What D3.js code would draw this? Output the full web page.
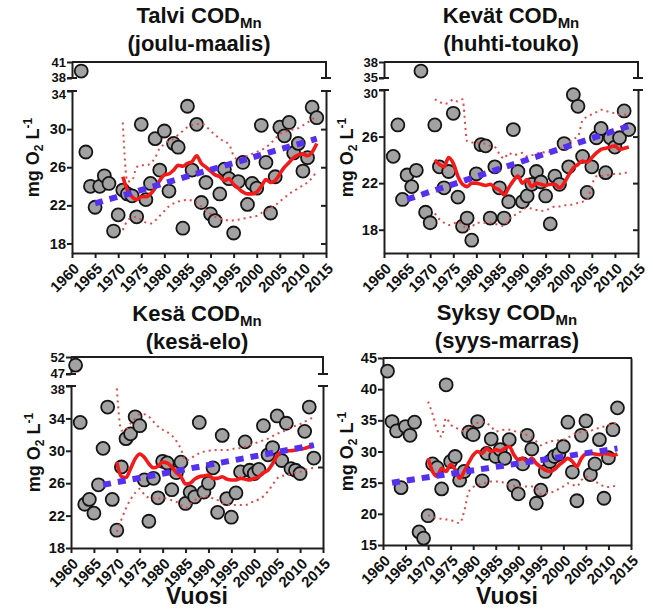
<!DOCTYPE html>
<html><head><meta charset="utf-8">
<script src="https://cdn.jsdelivr.net/npm/d3@7"></script>
<style>
body{margin:0;background:#fff;}
svg{display:block;}
text{font-family:"Liberation Sans",Arial,sans-serif;font-weight:bold;fill:#111;}
</style></head><body>
<svg id="chart" width="653" height="611"></svg>
<script>
// ---------- DATA ----------
const xTickValues = [1960,1965,1970,1975,1980,1985,1990,1995,2000,2005,2010,2015];

const years1962to2013 = [1962,1963,1964,1965,1966,1967,1968,1969,1970,1971,1972,1973,1974,1975,1976,1977,1978,1979,1980,1981,1982,1983,1984,1985,1986,1987,1988,1989,1990,1991,1992,1993,1994,1995,1996,1997,1998,1999,2000,2001,2002,2003,2004,2005,2006,2007,2008,2009,2010,2011,2012,2013];
const years1961to2013 = [1961,1962,1963,1964,1965,1966,1967,1968,1969,1970,1971,1972,1973,1974,1975,1976,1977,1978,1979,1980,1981,1982,1983,1984,1985,1986,1987,1988,1989,1990,1991,1992,1993,1994,1995,1996,1997,1998,1999,2000,2001,2002,2003,2004,2005,2006,2007,2008,2009,2010,2011,2012,2013];
const years1961to2012 = [1961,1962,1963,1964,1965,1966,1967,1968,1969,1970,1971,1972,1973,1974,1975,1976,1977,1978,1979,1980,1981,1982,1983,1984,1985,1986,1987,1988,1989,1990,1991,1992,1993,1994,1995,1996,1997,1998,1999,2000,2001,2002,2003,2004,2005,2006,2007,2008,2009,2010,2011,2012];
const years1971to2013 = [1971,1972,1973,1974,1975,1976,1977,1978,1979,1980,1981,1982,1983,1984,1985,1986,1987,1988,1989,1990,1991,1992,1993,1994,1995,1996,1997,1998,1999,2000,2001,2002,2003,2004,2005,2006,2007,2008,2009,2010,2011,2012,2013];
const years1970to2013 = [1970,1971,1972,1973,1974,1975,1976,1977,1978,1979,1980,1981,1982,1983,1984,1985,1986,1987,1988,1989,1990,1991,1992,1993,1994,1995,1996,1997,1998,1999,2000,2001,2002,2003,2004,2005,2006,2007,2008,2009,2010,2011,2012,2013];
const years1970to2012 = [1970,1971,1972,1973,1974,1975,1976,1977,1978,1979,1980,1981,1982,1983,1984,1985,1986,1987,1988,1989,1990,1991,1992,1993,1994,1995,1996,1997,1998,1999,2000,2001,2002,2003,2004,2005,2006,2007,2008,2009,2010,2011,2012];

// Talvi (joulu-maalis)
const talviValues = [39.3,27.6,24.0,21.8,24.0,25.1,24.3,19.3,21.0,23.6,23.2,23.0,20.8,30.5,22.6,24.3,29.0,25.7,29.8,23.5,28.5,28.1,19.6,32.4,25.7,30.5,22.3,24.4,21.1,20.4,23.2,25.8,24.8,19.1,24.5,26.5,22.1,24.3,23.8,30.4,26.5,21.2,25.0,30.2,29.3,30.7,27.5,28.5,25.6,27.0,32.3,31.2];
const talviSmooth = [25.0,23.6,22.9,22.6,22.9,22.9,23.2,23.8,24.6,25.2,25.3,25.7,26.2,26.1,26.4,26.6,27.2,26.4,26.0,25.6,25.2,25.0,24.6,24.8,24.2,23.8,23.4,23.2,23.2,23.4,24.0,24.7,24.4,24.6,25.3,26.0,26.5,27.0,27.3,27.4,27.2,27.6,28.5];
const talviUpper = [30.7,24.5,24.6,26.0,26.2,26.2,26.4,27.0,28.0,28.4,28.8,29.0,29.4,29.8,30.2,30.4,30.5,30.6,30.3,29.8,29.4,29.0,28.7,28.4,27.2,26.8,27.0,27.2,27.4,27.6,27.8,28.1,28.5,29.0,29.5,29.7,29.8,30.0,30.1,30.4,30.7,31.0,31.5];
const talviLower = [19.4,20.4,20.7,20.8,20.5,20.2,20.1,20.4,20.9,21.4,21.9,22.2,22.4,22.5,22.6,22.5,22.3,21.9,21.5,21.1,20.8,20.6,20.5,20.4,20.4,20.5,20.6,20.7,20.8,20.9,21.2,21.5,21.7,22.0,22.4,22.8,23.2,23.5,23.8,24.1,24.4,24.9,25.6];
const talviTrendYears = [1965, 2013];
const talviTrendValues = [22.2, 29.0];
const talviTicks = [18,22,26,30,34];
const talviTopTicks = [38,41];
const talviRightTicks = [18,22,26,30];

// Kevät (huhti-touko)
const kevatValues = [24.3,27.0,20.6,22.7,21.7,23.1,36.3,19.5,18.6,27.0,23.4,21.6,23.0,28.0,20.8,18.3,19.0,17.1,22.8,25.3,25.2,19.0,23.4,21.6,19.0,20.4,26.6,23.0,20.4,20.9,21.9,23.0,22.1,20.9,18.5,22.6,21.9,25.4,23.4,29.6,28.6,24.3,21.2,23.4,25.9,26.7,22.9,25.9,25.1,25.9,28.2,26.6];
const kevatSmooth = [24.0,23.6,23.4,24.2,23.7,22.6,21.9,21.7,22.0,22.0,21.9,21.8,21.9,21.6,21.4,21.0,21.6,22.2,22.6,22.0,22.3,21.7,22.0,21.9,21.8,21.9,21.9,21.6,22.0,22.7,23.3,23.6,23.9,23.8,24.2,24.6,24.9,25.0,25.1,25.2,24.9,25.0,25.1];
const kevatUpper = [29.2,29.0,28.8,28.9,29.2,29.0,29.2,25.6,25.5,25.5,25.4,25.4,25.2,25.1,24.5,24.1,24.6,24.4,24.5,24.6,24.3,24.4,24.5,24.7,24.6,24.7,24.9,25.0,25.1,25.5,25.8,26.0,27.4,27.7,27.9,28.1,28.3,28.2,28.1,28.0,27.9,27.9,27.9];
const kevatLower = [19.4,18.9,18.6,18.4,18.5,18.7,18.4,18.0,18.2,18.6,18.6,18.6,18.6,18.5,18.4,18.3,18.9,19.2,19.4,19.7,19.9,19.8,19.7,19.6,19.7,19.8,20.0,20.0,20.1,20.1,20.2,20.3,20.4,20.6,21.8,22.6,22.6,22.7,22.7,22.8,22.8,22.9,22.9];
const kevatTrendYears = [1965, 2013];
const kevatTrendValues = [20.6, 26.9];
const kevatTicks = [18,22,26,30];
const kevatTopTicks = [35,38];
const kevatRightTicks = [18,22,26];

// Kesä (kesä-elo)
const kesaValues = [49.6,33.5,23.4,24.0,22.3,25.8,30.3,35.4,24.0,20.2,28.0,31.5,32.1,34.2,33.1,26.4,21.3,26.6,24.2,28.7,28.5,25.2,27.3,28.6,23.5,24.9,24.3,33.5,24.9,26.0,27.9,22.4,31.9,24.1,21.8,24.8,27.4,31.1,27.6,27.2,27.7,33.1,29.5,30.4,34.3,28.8,33.4,27.8,27.6,27.2,32.4,35.4,29.1];
const kesaSmooth = [28.6,26.8,26.7,27.8,29.0,29.6,29.2,28.4,27.9,28.1,28.6,28.5,28.0,27.3,26.8,25.9,26.0,26.5,26.8,26.9,27.0,26.6,26.6,26.8,26.5,26.4,26.4,26.6,26.5,26.4,26.6,26.8,27.3,27.6,28.4,29.4,29.9,30.0,30.0,30.1,30.2,30.3,30.5,30.7];
const kesaUpper = [37.7,32.5,32.6,33.4,34.0,34.5,34.5,34.2,33.6,33.0,32.6,32.3,31.9,31.2,30.2,28.8,29.0,29.4,29.7,29.9,30.0,30.1,30.1,30.1,30.1,30.2,30.3,30.3,30.5,30.7,30.9,31.1,31.3,31.5,31.8,32.1,32.3,32.6,32.9,33.1,33.3,33.6,33.9,34.1];
const kesaLower = [20.0,21.5,22.9,24.0,24.8,25.3,24.6,24.2,24.1,24.1,24.1,24.1,23.9,23.7,23.3,22.9,23.4,23.9,24.2,24.4,24.4,24.1,23.9,23.6,23.4,23.3,23.3,23.3,23.3,23.5,23.8,24.0,24.4,25.0,25.8,26.6,26.9,27.0,27.1,27.3,27.4,27.6,27.8,27.9];
const kesaTrendYears = [1967, 2013];
const kesaTrendValues = [25.8, 30.7];
const kesaTicks = [18,22,26,30,34,38];
const kesaTopTicks = [47,52];
const kesaRightTicks = [28];

// Syksy (syys-marras)
const syksyValues = [42.9,34.8,33.3,24.2,34.0,32.6,34.7,17.1,16.1,19.7,28.0,27.4,24.0,40.7,28.4,29.2,25.4,26.8,33.1,32.7,34.8,25.3,29.7,32.0,29.2,30.3,28.9,31.9,24.5,23.2,28.0,32.6,30.4,21.7,23.8,26.8,28.4,29.2,29.6,30.8,34.7,26.7,22.1,32.6,34.9,26.3,28.0,31.9,22.5,29.0,33.5,37.0];
const syksySmooth = [28.9,26.8,26.0,27.3,26.8,27.9,27.1,25.7,26.8,28.2,29.4,30.0,29.7,30.5,30.0,30.3,30.1,30.5,30.8,29.5,28.7,28.9,28.4,28.9,28.1,27.5,27.0,26.8,27.1,27.8,28.4,28.9,28.4,27.6,28.9,29.6,29.7,29.6,29.5,29.7,29.6,29.4,29.6];
const syksyUpper = [38.0,36.0,33.5,32.4,35.4,34.3,33.9,33.5,33.2,33.8,34.4,34.6,34.8,34.5,34.0,33.2,33.4,33.5,33.5,33.3,33.1,33.0,32.6,32.2,31.6,31.0,31.3,31.6,31.7,31.8,31.9,32.2,32.6,33.0,33.1,33.2,33.3,33.6,33.8,34.0,34.2,34.4,34.6];
const syksyLower = [19.8,19.5,19.3,19.2,19.1,19.0,18.7,18.5,20.4,23.5,24.3,24.6,24.9,25.0,25.2,25.2,25.2,24.9,24.6,24.5,24.4,24.4,24.4,24.4,24.2,23.2,23.3,23.4,23.6,24.0,24.4,24.9,24.7,24.4,25.4,26.0,25.6,25.2,24.8,24.4,24.3,24.4,24.6];
const syksyTrendYears = [1962, 2012];
const syksyTrendValues = [25.0, 30.5];
const syksyTicks = [15,20,25,30,35,40,45];
const syksyRightTicks = [];

// ---------- DRAWING ----------
const svg = d3.select('#chart');
const AX = '#1e1e1e';
const fmtInt = d3.format('d');

function styleAxis(sel, fs) {
  sel.selectAll('path,line').attr('stroke', AX).attr('stroke-width', 2);
  sel.selectAll('text').attr('font-size', fs).attr('font-family', '"Liberation Sans",Arial,sans-serif')
     .attr('font-weight', 'bold').attr('fill', '#111');
}
function hline(g, x1, x2, y) {
  g.append('line').attr('x1', x1).attr('x2', x2).attr('y1', y).attr('y2', y)
   .attr('stroke', AX).attr('stroke-width', 2);
}
function vline(g, x, y1, y2) {
  g.append('line').attr('x1', x).attr('x2', x).attr('y1', y1).attr('y2', y2)
   .attr('stroke', AX).attr('stroke-width', 2);
}

function panel(o) {
  const g = svg.append('g');
  const x = d3.scaleLinear().domain([1960, 2015]).range([o.x0, o.x1]);
  const yL = d3.scaleLinear().domain(o.lowDomain).range([o.bottom, o.lowTop]);
  const yT = o.topDomain ? d3.scaleLinear().domain(o.topDomain).range([o.breakY, o.top]) : null;
  const yv = v => (yT && v > o.lowDomain[1]) ? yT(v) : yL(v);

  // bottom axis
  const xa = g.append('g').attr('transform', `translate(0,${o.bottom})`)
    .call(d3.axisBottom(x).tickValues(xTickValues).tickFormat(fmtInt).tickSize(5).tickSizeOuter(0));
  styleAxis(xa, 15);
  xa.selectAll('text').attr('x', 0).attr('y', 0).attr('dy', '0.35em')
    .attr('text-anchor', 'end').attr('transform', 'translate(4,13) rotate(-45)');

  // left lower axis
  const la = g.append('g').attr('transform', `translate(${o.x0},0)`)
    .call(d3.axisLeft(yL).tickValues(o.ticks).tickFormat(fmtInt).tickSize(5).tickSizeOuter(0));
  styleAxis(la, 14.5);
  la.selectAll('text').attr('x', -6);

  // right lower axis
  const ra = g.append('g').attr('transform', `translate(${o.x1},0)`)
    .call(d3.axisRight(yL).tickValues(o.rightTicks).tickSize(-5).tickSizeOuter(0).tickFormat(''));
  styleAxis(ra, 14);

  if (yT) {
    const ta = g.append('g').attr('transform', `translate(${o.x0},0)`)
      .call(d3.axisLeft(yT).tickValues(o.topTicks).tickFormat(fmtInt).tickSize(5).tickSizeOuter(0));
    styleAxis(ta, 13);
    ta.selectAll('text').attr('x', -6);
    // keep the stacked labels around the break just clear of each other
    ta.selectAll('.tick').filter(d => d === o.topDomain[0]).select('text').attr('y', -1);
    la.selectAll('.tick').filter(d => d === o.lowDomain[1]).select('text').attr('font-size', 13).attr('y', 3);
    vline(g, o.x1, o.top, o.breakY);
    // break caps
    hline(g, o.x0 - 5, o.x0 + 5, o.breakY);
    hline(g, o.x0 - 5, o.x0 + 5, o.lowTop);
    hline(g, o.x1 - 5, o.x1 + 5, o.breakY);
    hline(g, o.x1 - 5, o.x1 + 5, o.lowTop);
  }
  // top border
  hline(g, o.x0, o.x1 + 1, o.top);

  // points
  g.append('g').selectAll('circle').data(d3.zip(o.years, o.values)).join('circle')
    .attr('cx', d => x(d[0])).attr('cy', d => yv(d[1])).attr('r', 6.5)
    .attr('fill', '#a2a2a2').attr('stroke', '#151515').attr('stroke-width', 1.8);

  const line = d3.line().x(d => x(d[0])).y(d => yL(d[1])).curve(d3.curveMonotoneX);
  const lineLin = d3.line().x(d => x(d[0])).y(d => yL(d[1]));

  // confidence bands (dotted)
  [o.upper, o.lower].forEach(arr => {
    g.append('path').datum(d3.zip(o.bandYears, arr)).attr('d', line)
      .attr('fill', 'none').attr('stroke', '#e04a4a').attr('stroke-width', 2)
      .attr('stroke-dasharray', '2,4');
  });
  // smooth line
  g.append('path').datum(d3.zip(o.bandYears, o.smooth)).attr('d', line)
    .attr('fill', 'none').attr('stroke', '#f21a1a').attr('stroke-width', 3.6)
    .attr('stroke-linejoin', 'round');
  // trend line
  g.append('path').datum(d3.zip(o.trendYears, o.trendValues)).attr('d', lineLin)
    .attr('fill', 'none').attr('stroke', '#5530ee').attr('stroke-width', 6)
    .attr('stroke-dasharray', '8,7');

  // title
  const cx = (o.x0 + o.x1) / 2;
  const t1 = g.append('text').attr('x', cx).attr('y', o.titleY).attr('text-anchor', 'middle')
    .attr('font-size', 22);
  t1.append('tspan').text(o.title + ' COD');
  t1.append('tspan').attr('font-size', 15).attr('dy', 5).text('Mn');
  g.append('text').attr('x', cx).attr('y', o.titleY + 28).attr('text-anchor', 'middle')
    .attr('font-size', 22).text(o.subtitle);

  // y label
  const yc = (o.top + o.bottom) / 2;
  const yl = g.append('text').attr('transform', `translate(${o.ylabX},${yc}) rotate(-90)`)
    .attr('text-anchor', 'middle').attr('font-size', 18);
  yl.append('tspan').text('mg O');
  yl.append('tspan').attr('font-size', 12).attr('dy', 4).text('2');
  yl.append('tspan').attr('dy', -4).text(' L');
  yl.append('tspan').attr('font-size', 12).attr('dy', -7).text('-1');

  if (o.xlabel) {
    g.append('text').attr('x', cx).attr('y', 604).attr('text-anchor', 'middle')
      .attr('font-size', 23).text(o.xlabel);
  }
}

panel({x0: 72, x1: 326, bottom: 253, lowTop: 91, breakY: 78, top: 62,
  lowDomain: [17, 34], topDomain: [38, 41], ticks: talviTicks, topTicks: talviTopTicks, rightTicks: talviRightTicks,
  years: years1962to2013, values: talviValues, bandYears: years1971to2013,
  smooth: talviSmooth, upper: talviUpper, lower: talviLower,
  trendYears: talviTrendYears, trendValues: talviTrendValues,
  title: 'Talvi', subtitle: '(joulu-maalis)', titleY: 23, ylabX: 39});

panel({x0: 384, x1: 638, bottom: 253, lowTop: 90, breakY: 78, top: 62,
  lowDomain: [16, 30], topDomain: [35, 38], ticks: kevatTicks, topTicks: kevatTopTicks, rightTicks: kevatRightTicks,
  years: years1962to2013, values: kevatValues, bandYears: years1971to2013,
  smooth: kevatSmooth, upper: kevatUpper, lower: kevatLower,
  trendYears: kevatTrendYears, trendValues: kevatTrendValues,
  title: 'Kevät', subtitle: '(huhti-touko)', titleY: 23, ylabX: 353});

panel({x0: 71, x1: 323, bottom: 548, lowTop: 386, breakY: 374, top: 357,
  lowDomain: [18, 38], topDomain: [47, 52], ticks: kesaTicks, topTicks: kesaTopTicks, rightTicks: kesaRightTicks,
  years: years1961to2013, values: kesaValues, bandYears: years1970to2013,
  smooth: kesaSmooth, upper: kesaUpper, lower: kesaLower,
  trendYears: kesaTrendYears, trendValues: kesaTrendValues,
  title: 'Kesä', subtitle: '(kesä-elo)', titleY: 321, ylabX: 40, xlabel: 'Vuosi'});

panel({x0: 383, x1: 631, bottom: 545, lowTop: 358, top: 358,
  lowDomain: [15, 45], topDomain: null, ticks: syksyTicks, rightTicks: syksyRightTicks,
  years: years1961to2012, values: syksyValues, bandYears: years1970to2012,
  smooth: syksySmooth, upper: syksyUpper, lower: syksyLower,
  trendYears: syksyTrendYears, trendValues: syksyTrendValues,
  title: 'Syksy', subtitle: '(syys-marras)', titleY: 320, ylabX: 353, xlabel: 'Vuosi'});
</script>
</body></html>
